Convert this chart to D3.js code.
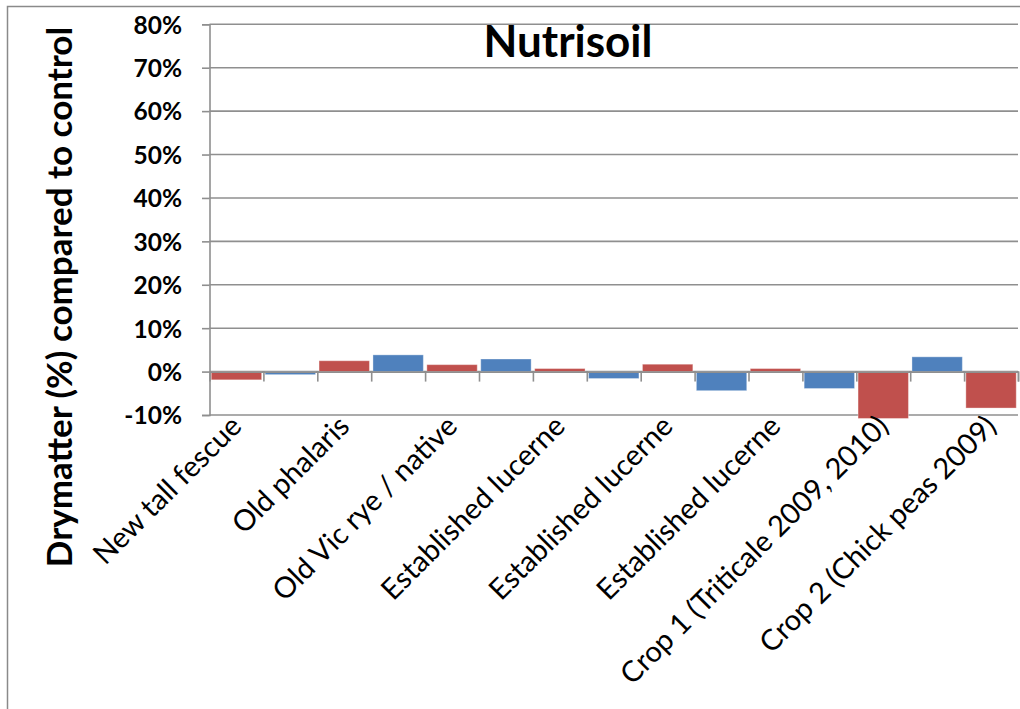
<!DOCTYPE html>
<html>
<head>
<meta charset="utf-8">
<script src="https://cdn.jsdelivr.net/npm/d3@7"></script>
<style>
  html, body { margin: 0; padding: 0; background: #fff; }
  svg { display: block; font-family: Lato, "Open Sans", sans-serif; }
</style>
</head>
<body>
<svg id="chart" width="1020" height="709"></svg>
<script>
// Site names, one per labelled (red) bar
const siteLabels = [
  "New tall fescue",
  "Old phalaris",
  "Old Vic rye / native",
  "Established lucerne",
  "Established lucerne",
  "Established lucerne",
  "Crop 1 (Triticale 2009, 2010)",
  "Crop 2 (Chick peas 2009)"
];
// Drymatter change vs control (%), red bars sit on the labelled slots
const redValues  = [-1.9, 2.5, 1.6, 0.7, 1.7, 0.7, -10.8, -8.4];
// Blue bars sit in the slots between the labelled ones
const blueValues = [-0.7, 3.85, 2.9, -1.6, -4.4, -3.9, 3.4];
// Y axis tick values (%)
const yTicks = [-10, 0, 10, 20, 30, 40, 50, 60, 70, 80];

const colors = { red: "#C0504D", blue: "#4F81BD" };
const gridColor = "#8f8f8f";

// Interleave the two series into 15 slots: red, blue, red, ...
const slots = [];
for (let i = 0; i < redValues.length; i++) {
  slots.push({ value: redValues[i], series: "red", label: siteLabels[i] });
  if (i < blueValues.length) slots.push({ value: blueValues[i], series: "blue", label: null });
}

const svg = d3.select("#chart");

const plot = { left: 209.5, right: 1018, top: 24.3, bottom: 415 };

const x = d3.scaleBand()
  .domain(d3.range(slots.length))
  .range([plot.left, plot.right])
  .paddingInner(0.065)
  .paddingOuter(0.0325);

const y = d3.scaleLinear()
  .domain([-10, 80])
  .range([plot.bottom, plot.top]);

// Slot boundaries for the category tick marks
const xEdge = d3.scaleLinear().domain([0, slots.length]).range([plot.left, plot.right]);

// Outer chart frame (left and top edges)
svg.append("path")
  .attr("d", `M7.5,709 L7.5,6.5 L1020,6.5`)
  .attr("fill", "none")
  .attr("stroke", "#8a8a8a")
  .attr("stroke-width", 1.5);

// Horizontal gridlines
svg.append("g")
  .selectAll("line")
  .data(yTicks)
  .join("line")
  .attr("x1", plot.left)
  .attr("x2", plot.right)
  .attr("y1", d => y(d))
  .attr("y2", d => y(d))
  .attr("stroke", gridColor)
  .attr("stroke-width", 1.6);

// Bars
svg.append("g")
  .selectAll("rect")
  .data(slots)
  .join("rect")
  .attr("x", (d, i) => x(i))
  .attr("width", x.bandwidth())
  .attr("y", d => y(Math.max(0, d.value)))
  .attr("height", d => Math.abs(y(d.value) - y(0)))
  .attr("fill", d => colors[d.series])
  .attr("stroke", "rgba(255,255,255,0.35)")
  .attr("stroke-width", 1);

// Y axis with tick labels
const yAxis = d3.axisLeft(y)
  .tickValues(yTicks)
  .tickSize(7.5)
  .tickPadding(20)
  .tickFormat(d => d + "%");

const yg = svg.append("g")
  .attr("transform", `translate(${plot.left},0)`)
  .call(yAxis);
yg.select(".domain").attr("stroke", gridColor).attr("stroke-width", 1.6);
yg.selectAll(".tick line").attr("stroke", gridColor).attr("stroke-width", 1.6);
yg.selectAll(".tick text")
  .attr("font-family", "Lato, sans-serif")
  .attr("font-weight", "bold")
  .attr("font-size", 24.5)
  .attr("fill", "#000")
  .attr("x", 182 - plot.left)
  .attr("dy", "0.36em");

// Category axis along zero, ticks at slot boundaries
const xAxis = d3.axisBottom(xEdge)
  .tickValues(d3.range(1, slots.length + 1))
  .tickSize(10)
  .tickFormat("");
const xg = svg.append("g")
  .attr("transform", `translate(0,${y(0)})`)
  .call(xAxis);
xg.select(".domain").attr("stroke", gridColor).attr("stroke-width", 1.6);
xg.selectAll(".tick line").attr("stroke", gridColor).attr("stroke-width", 1.6);

// Rotated site labels under the plot
svg.append("g")
  .selectAll("text")
  .data(slots.map((d, i) => ({ ...d, i })).filter(d => d.label))
  .join("text")
  .attr("transform", d => `translate(${x(d.i) + x.bandwidth() / 2 + 7},${plot.bottom + 13}) rotate(-45)`)
  .attr("text-anchor", "end")
  .attr("font-size", 29)
  .attr("fill", "#000")
  .text(d => d.label);

// Chart title
svg.append("text")
  .attr("x", 568)
  .attr("y", 57)
  .attr("text-anchor", "middle")
  .attr("font-weight", "bold")
  .attr("font-size", 44)
  .attr("fill", "#000")
  .text("Nutrisoil");

// Y axis title
svg.append("text")
  .attr("transform", "translate(72,297) rotate(-90)")
  .attr("text-anchor", "middle")
  .attr("font-weight", "bold")
  .attr("font-size", 35)
  .attr("fill", "#000")
  .text("Drymatter (%) compared to control");
</script>
</body>
</html>
